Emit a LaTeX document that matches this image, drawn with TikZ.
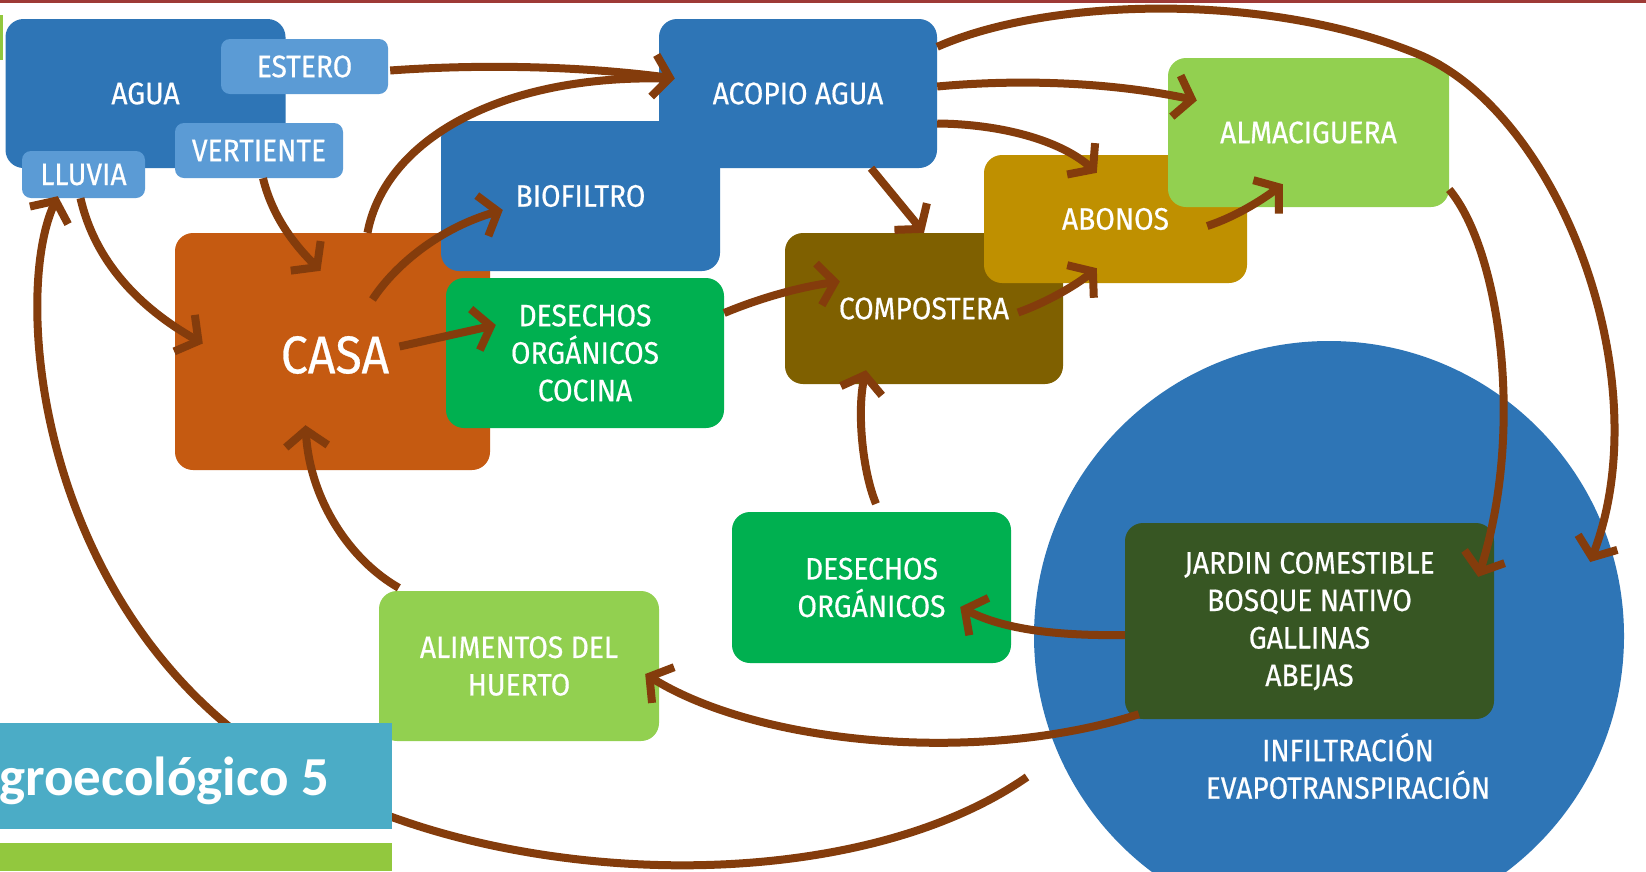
\documentclass[tikz,border=0pt]{standalone}
\usepackage{fontspec}
\usetikzlibrary{arrows.meta,calc}
\newfontfamily\dinfont[FakeStretch=0.91,FakeBold=0.5]{Fira Sans}
\newfontfamily\titlefont{Carlito}
\definecolor{bluedk}{HTML}{2E75B6}
\definecolor{bluelt}{HTML}{5B9BD5}
\definecolor{casac}{HTML}{C55A11}
\definecolor{greenc}{HTML}{00B050}
\definecolor{compc}{HTML}{7F6000}
\definecolor{abonc}{HTML}{BF9000}
\definecolor{limec}{HTML}{92D050}
\definecolor{jardc}{HTML}{375623}
\definecolor{arrowc}{HTML}{843C0C}
\definecolor{titlec}{HTML}{4BACC6}
\definecolor{barc}{HTML}{92C83E}
\definecolor{topred}{HTML}{9E3A36}
\tikzset{
  box/.style={rectangle, rounded corners=18pt, inner sep=0pt, text=white,
    font=\dinfont\fontsize{31}{37.5}\selectfont, align=center},
  tag/.style={box, rounded corners=9pt, fill=bluelt},
  arr/.style={draw=arrowc, line width=8pt, -{Straight Barb[length=16pt,width=42pt]}},
  line/.style={draw=arrowc, line width=8pt},
  txt/.style={inner sep=0pt, text=white, font=\dinfont\fontsize{31}{37.5}\selectfont, align=center}
}
\begin{document}
\begin{tikzpicture}[x=1pt,y=-1pt]
\useasboundingbox (0,0) rectangle (1646,871);
\clip (0,0) rectangle (1646,871);
\fill[white] (0,0) rectangle (1646,871);
\fill[topred] (0,0) rectangle (1646,3);
\fill[barc] (0,15) rectangle (2.5,60);

% big circle
\node[circle, fill=bluedk, minimum size=590pt, inner sep=0pt] (circ) at (1329,636) {};
\node[txt] (infil) at (1348,766) {INFILTRACIÓN\\EVAPOTRANSPIRACIÓN};

% water group
\node[box, fill=bluedk, minimum width=280pt, minimum height=149pt] (agua) at (145.5,93.5) {AGUA};
\node[tag, minimum width=167pt, minimum height=55pt] (estero) at (304.5,66.5) {ESTERO};
\node[tag, minimum width=168pt, minimum height=55pt] (vertiente) at (259,150.5) {VERTIENTE};
\node[tag, minimum width=123pt, minimum height=47pt] (lluvia) at (83.5,174.5) {LLUVIA};

% casa
\node[box, fill=casac, minimum width=315pt, minimum height=237pt] (casa) at (332.5,351.5) {};
\node[txt, font=\dinfont\fontsize{53}{58}\selectfont] (casalbl) at (335,355) {CASA};

% acopio + biofiltro
\node[box, fill=bluedk, minimum width=278pt, minimum height=149pt] (acopio) at (798,93.5) {};
\node[box, fill=bluedk, minimum width=279pt, minimum height=150pt] (biofiltro) at (580.5,196) {BIOFILTRO};
\node[txt] (acopiolbl) at (acopio.center) {ACOPIO AGUA};

\node[box, fill=greenc, minimum width=278pt, minimum height=150pt] (desc) at (585,353) {DESECHOS\\ORGÁNICOS\\COCINA};
\node[box, fill=compc, minimum width=278pt, minimum height=151pt] (compost) at (924,308.5) {COMPOSTERA};
\node[box, fill=abonc, minimum width=263pt, minimum height=128pt] (abonos) at (1115.5,219) {ABONOS};
\node[box, fill=limec, minimum width=281pt, minimum height=149pt] (almac) at (1308.5,132.5) {ALMACIGUERA};
\node[box, fill=jardc, minimum width=369pt, minimum height=196pt] (jardin) at (1309.5,621) {JARDIN COMESTIBLE\\BOSQUE NATIVO\\GALLINAS\\ABEJAS};
\node[box, fill=greenc, minimum width=279pt, minimum height=151pt] (desorg) at (871.5,587.5) {DESECHOS\\ORGÁNICOS};
\node[box, fill=limec, minimum width=280pt, minimum height=150pt] (alim) at (519,666) {ALIMENTOS DEL\\HUERTO};

% connectors
\coordinate (arcstart) at (1027,777);
\draw[arr] ($(estero.east)+(2,4)$) .. controls (480,64) and (580,66) .. ($(acopio.west)+(16,-15)$);
\draw[line] ($(casa.north)+(35,0)$) .. controls (385,140) and (500,75) .. ($(acopio.west)+(5,-15)$);
\draw[arr] ($(lluvia.south)+(-3,0)$) .. controls (95,262) and (140,308) .. ($(casa.west)+(28,-8)$);
\draw[arr] ($(vertiente.south)+(4,0)$) .. controls (272,215) and (292,242) .. ($(casa.north)+(-12,38)$);
\draw[arr] ($(casa.center)+(40,-52)$) .. controls (395,265) and (440,228) .. ($(biofiltro.west)+(62,14)$);
\draw[arr] ($(casa.center)+(67,-5)$) -- ($(desc.west)+(50,-28)$);
\draw[arr] ($(desc.east)+(0,-40)$) .. controls (760,298) and (800,287) .. ($(compost.west)+(55,-27)$);
\draw[arr] ($(acopio.south)+(73,0)$) -- (compost.north);
\draw[arr] ($(acopio.east)+(0,30)$) .. controls (1000,124) and (1060,140) .. ($(abonos.north west)+(113,18)$);
\draw[arr] ($(acopio.east)+(0,-7)$) .. controls (1030,78) and (1120,84) .. ($(almac.west)+(29,-32)$);
\draw[arr] ($(compost.center)+(94,4)$) .. controls (1045,303) and (1075,286) .. ($(abonos.south west)+(113,-15)$);
\draw[arr] ($(abonos.east)+(-40,7)$) .. controls (1235,217) and (1262,200) .. ($(almac.south west)+(115,-23)$);
\draw[arr] ($(almac.east)+(0,57)$) .. controls (1500,250) and (1525,430) .. ($(jardin.north east)+(-16,54)$);
\draw[arr] ($(acopio.north east)+(0,28)$) .. controls (1050,-3) and (1270,-8) .. (1420,55)
   .. controls (1560,115) and (1660,380) .. ($(circ.east)+(-34,-74)$);
\draw[arr] ($(desorg.north)+(4.5,-8)$) .. controls (862,470) and (857,410) .. ($(compost.south)+(-58,-14)$);
\draw[arr] ($(jardin.west)+(0,14)$) .. controls (1060,636) and (1005,630) .. ($(desorg.east)+(-51,19.5)$);
\draw[arr] ($(jardin.south west)+(14,-5)$) .. controls (980,765) and (760,745) .. ($(alim.east)+(-14,8)$);
\draw[arr] ($(alim.north west)+(20,-3)$) .. controls (350,560) and (310,500) .. ($(casa.south)+(-27,-45)$);
\draw[arr] (arcstart) .. controls (850,900) and (500,890) .. (300,775)
   .. controls (40,630) and (10,300) .. ($(lluvia.south west)+(36,-2)$);

% title boxes
\fill[titlec] (0,723) rectangle (392,829);
\node[anchor=base west, inner sep=0pt, text=white, font=\titlefont\bfseries\fontsize{55}{60}\selectfont] (title) at (-1,795) {groecológico 5};
\fill[barc] (0,843) rectangle (392,871);
\end{tikzpicture}
\end{document}
